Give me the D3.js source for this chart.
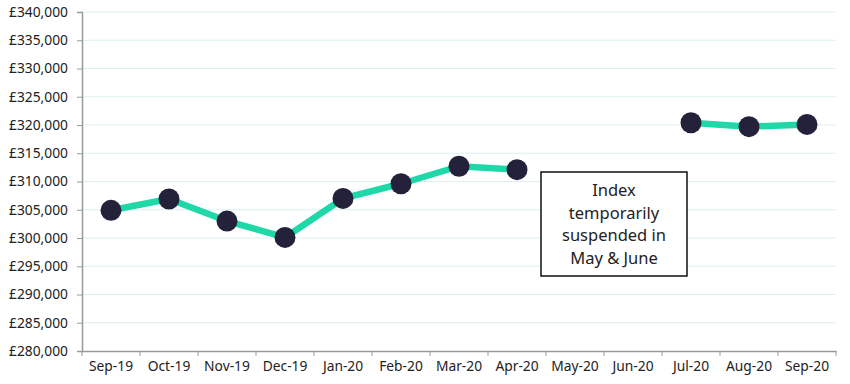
<!DOCTYPE html>
<html><head><meta charset="utf-8">
<script src="https://cdn.jsdelivr.net/npm/d3@7"></script>
<style>body{margin:0;background:#fff}svg{display:block}text{font-family:"Noto Sans",sans-serif}</style>
</head><body><svg id="c" width="850" height="384"></svg>
<script>
const months = ["Sep-19","Oct-19","Nov-19","Dec-19","Jan-20","Feb-20","Mar-20","Apr-20","May-20","Jun-20","Jul-20","Aug-20","Sep-20"];
const prices = [304900, 306900, 303000, 300100, 307000, 309600, 312700, 312100, null, null, 320400, 319700, 320100];
const yTicks = [280000,285000,290000,295000,300000,305000,310000,315000,320000,325000,330000,335000,340000];
const noteLines = ["Index","temporarily","suspended in","May & June"];

(function(){
const svg = d3.select("#c");
const pl = 82, pr = 836, pt = 12, pb = 351;
const x = d3.scaleBand().domain(months).range([pl, pr]).padding(0);
const y = d3.scaleLinear().domain([280000, 340000]).range([pb, pt]);

svg.append("g").selectAll("line").data(yTicks.slice(1)).join("line")
  .attr("x1", pl).attr("x2", pr)
  .attr("y1", d => y(d)).attr("y2", d => y(d))
  .attr("stroke", "#dcf1ee").attr("stroke-width", 1);

const yAxis = svg.append("g").attr("transform", `translate(${pl},0)`)
  .call(d3.axisLeft(y).tickValues(yTicks).tickSize(5).tickPadding(9)
    .tickFormat(d => "£" + d3.format(",")(d)));
yAxis.select(".domain").attr("stroke", "#9a9a9a").attr("stroke-width", 1.5);
yAxis.selectAll(".tick line").attr("stroke", "#9a9a9a");
yAxis.selectAll("text").attr("font-size", 13.8).attr("fill", "#222");

const xAxis = svg.append("g").attr("transform", `translate(0,${pb})`)
  .call(d3.axisBottom(x).tickSize(0).tickPadding(10));
xAxis.select(".domain").attr("stroke", "#9a9a9a").attr("stroke-width", 1.5);
xAxis.selectAll("text").attr("font-size", 13.8).attr("fill", "#222");
const bounds = months.map(m => x(m)).concat([x(months[months.length-1]) + x.bandwidth()]);
xAxis.append("g").selectAll("line").data(bounds).join("line")
  .attr("x1", d => d).attr("x2", d => d).attr("y1", 0).attr("y2", 5)
  .attr("stroke", "#9a9a9a");

const data = months.map((m, i) => ({m, v: prices[i]}));
const line = d3.line().defined(d => d.v != null)
  .x(d => x(d.m) + x.bandwidth()/2).y(d => y(d.v));
svg.append("path").datum(data).attr("d", line)
  .attr("fill", "none").attr("stroke", "#1fd8a8").attr("stroke-width", 6.5)
  .attr("stroke-linejoin", "round");
svg.append("g").selectAll("circle").data(data.filter(d => d.v != null)).join("circle")
  .attr("cx", d => x(d.m) + x.bandwidth()/2).attr("cy", d => y(d.v))
  .attr("r", 10.5).attr("fill", "#23223a");

const bx = 541, by = 172, bw = 146, bh = 104;
svg.append("rect").attr("x", bx).attr("y", by).attr("width", bw).attr("height", bh)
  .attr("fill", "#fff").attr("stroke", "#111").attr("stroke-width", 1.5);
svg.append("g").selectAll("text").data(noteLines).join("text")
  .attr("x", bx + bw/2).attr("y", (d, i) => by + 24 + i * 22.5)
  .attr("text-anchor", "middle").attr("font-size", 16.5).attr("fill", "#222")
  .text(d => d);
})();
</script></body></html>
